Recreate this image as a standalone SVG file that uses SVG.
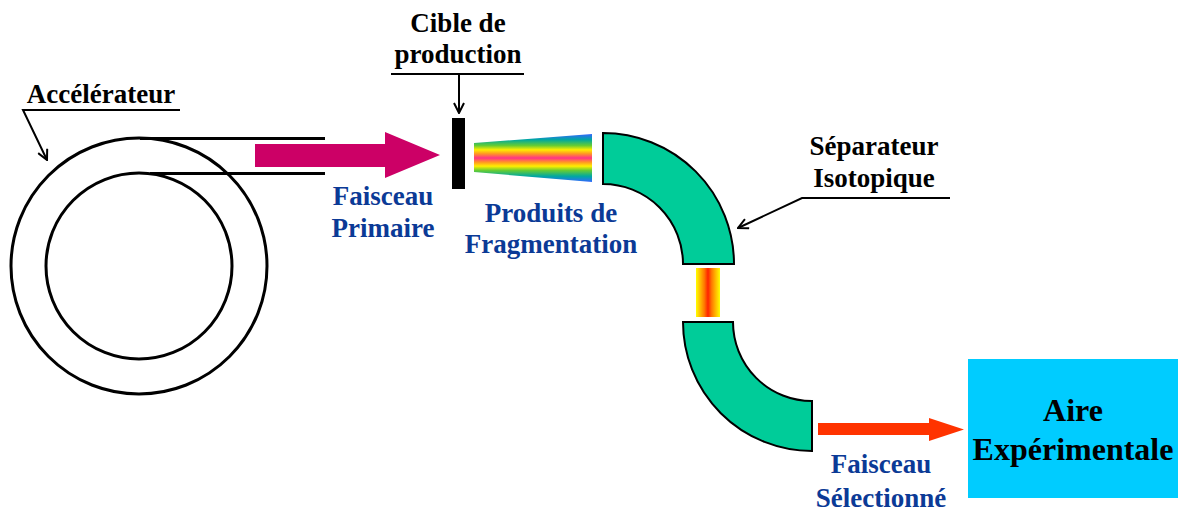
<svg xmlns="http://www.w3.org/2000/svg" width="1183" height="512" viewBox="0 0 1183 512">
<style>
text{font-family:'Liberation Serif','Times New Roman',Times,'Nimbus Roman','DejaVu Serif',serif;font-weight:bold;font-size:27px;text-anchor:middle}
.blk{fill:#000}
.blu{fill:#0B3A96}
.ring{fill:none;stroke:#000;stroke-width:3}
.lead{fill:none;stroke:#000;stroke-width:2}
.mag{fill:#00CC99;stroke:#000;stroke-width:2}
</style>
<defs>
<marker id="ah" viewBox="0 0 12 12" refX="11" refY="6" markerWidth="12" markerHeight="12" markerUnits="userSpaceOnUse" orient="auto">
<path d="M1,1 L11,6 L1,11" fill="none" stroke="#000" stroke-width="2"/>
</marker>
<linearGradient id="rainbow" x1="0" y1="0" x2="0" y2="1">
<stop offset="0" stop-color="#3366FF"/>
<stop offset="0.12" stop-color="#00A8A0"/>
<stop offset="0.24" stop-color="#66CC33"/>
<stop offset="0.33" stop-color="#FFEE00"/>
<stop offset="0.41" stop-color="#FF9922"/>
<stop offset="0.5" stop-color="#FF3388"/>
<stop offset="0.59" stop-color="#FF9922"/>
<stop offset="0.67" stop-color="#FFEE00"/>
<stop offset="0.76" stop-color="#66CC33"/>
<stop offset="0.88" stop-color="#00A8A0"/>
<stop offset="1" stop-color="#3366FF"/>
</linearGradient>
<linearGradient id="fire" x1="0" y1="0" x2="1" y2="0">
<stop offset="0" stop-color="#FFFF00"/>
<stop offset="0.35" stop-color="#FF7700"/>
<stop offset="0.5" stop-color="#FF2200"/>
<stop offset="0.65" stop-color="#FF7700"/>
<stop offset="1" stop-color="#FFFF00"/>
</linearGradient>
</defs>
<rect width="1183" height="512" fill="#fff"/>

<g id="accelerateur">
<circle class="ring" cx="139" cy="266" r="128"/>
<circle class="ring" cx="139" cy="266" r="93"/>
<line class="ring" x1="140" y1="138.5" x2="325" y2="138.5"/>
<line class="ring" x1="150" y1="173.5" x2="325" y2="173.5"/>
<text class="blk" x="101" y="103">Accélérateur</text>
</g>

<g id="faisceau-primaire">
<polygon points="255,144 385,144 385,132 440,155 385,178 385,167 255,167" fill="#CC0066"/>
<text class="blu"><tspan x="383" y="205">Faisceau</tspan><tspan x="383" y="237">Primaire</tspan></text>
</g>

<g id="cible">
<rect x="452" y="118" width="13" height="71" fill="#000"/>
<text class="blk"><tspan x="458" y="32">Cible de</tspan><tspan x="458" y="63">production</tspan></text>
</g>

<g id="fragmentation">
<polygon points="474,143 592,134 592,182 474,172" fill="url(#rainbow)"/>
<text class="blu"><tspan x="551" y="222">Produits de</tspan><tspan x="551" y="253">Fragmentation</tspan></text>
</g>

<g id="separateur">
<path class="mag" d="M603,133 A131,131 0 0 1 734,264 L683,264 A80,80 0 0 0 603,184 Z"/>
<rect x="696" y="268" width="24" height="49" fill="url(#fire)"/>
<path class="mag" d="M683,322 A129,129 0 0 0 812,451 L812,401 A79,79 0 0 1 733,322 Z"/>
<text class="blk"><tspan x="874" y="155">Séparateur</tspan><tspan x="874" y="187">Isotopique</tspan></text>
</g>

<g id="faisceau-selectionne">
<polygon points="818,423 929,423 929,418 964,429.5 929,441 929,435 818,435" fill="#FF3300"/>
<text class="blu"><tspan x="881" y="473">Faisceau</tspan><tspan x="881" y="507">Sélectionné</tspan></text>
</g>

<g id="aire">
<rect x="968" y="359" width="210" height="139" fill="#00CCFF"/>
<text class="blk" style="font-size:32px"><tspan x="1073" y="421">Aire</tspan><tspan x="1073" y="460">Expérimentale</tspan></text>
</g>

<g id="connecteurs">
<path class="lead" d="M180,110 L23,110 L47,160" marker-end="url(#ah)"/>
<line class="lead" x1="391" y1="74" x2="524" y2="74"/>
<path class="lead" d="M459,74 L459,113" marker-end="url(#ah)"/>
<path class="lead" d="M950,198 L802,198 L738,228" marker-end="url(#ah)"/>
</g>
</svg>
